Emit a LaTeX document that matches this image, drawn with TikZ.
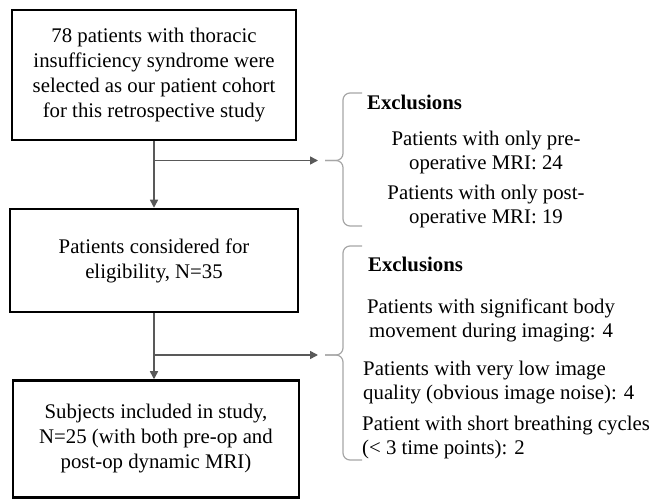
\documentclass[tikz,border=0pt]{standalone}
\usepackage{fontspec}
\setmainfont{Liberation Serif}
\usetikzlibrary{arrows.meta}
\definecolor{arrowgray}{HTML}{595959}
\definecolor{bracegray}{HTML}{A6A6A6}

\begin{document}
\begin{tikzpicture}[x=1pt, y=1pt,
    box/.style={draw, line width=2.5pt, align=center, inner sep=0pt, font=\fontsize{20.8}{25}\selectfont},
    arr/.style={draw=arrowgray, line width=1.5pt, -{Triangle[length=8pt,width=8pt]}},
    brace/.style={draw=bracegray, line width=1.2pt, rounded corners=7pt},
    item/.style={inner sep=0pt, align=center, font=\fontsize{20.8}{24}\selectfont},
    head/.style={inner sep=0pt, anchor=base west, font=\bfseries\fontsize{20.8}{24}\selectfont}]
    \useasboundingbox (0,0) rectangle (652,500);

    \node[box, minimum width=284pt, minimum height=130pt] (cohort) at (154,425) {78 patients with thoracic\\insufficiency syndrome were\\selected as our patient cohort\\for this retrospective study};
    \node[box, minimum width=288pt, minimum height=103pt] (eligible) at (154,239.5) {Patients considered for\\eligibility, N=35};
    \node[box, minimum width=286pt, minimum height=117pt] (included) at (156,61) {Subjects included in study,\\N=25 (with both pre-op and\\post-op dynamic MRI)};

    \draw[arr] (cohort) -- (eligible);
    \draw[arr] (eligible.south) -- (eligible.south |- included.north);
    \coordinate (split1) at (154,339.5);
    \coordinate (tip1) at (318,339.5);
    \coordinate (split2) at (154,145);
    \coordinate (tip2) at (318,145);
    \draw[arr] (split1) -- (tip1);
    \draw[arr] (split2) -- (tip2);

    \draw[brace] (362,407) -- (343,407) -- (343,339.5) -- (325,339.5);
    \draw[brace] (362,274) -- (343,274) -- (343,339.5) -- (325,339.5);
    \draw[brace] (362,254) -- (343,254) -- (343,145) -- (325,145);
    \draw[brace] (362,40) -- (343,40) -- (343,145) -- (325,145);

    \node[head] (excl1) at (367,390) {Exclusions};
    \node[item] (preonly) at (486,347) {Patients with only pre-\\operative MRI: 24};
    \node[item] (postonly) at (486,293) {Patients with only post-\\operative MRI: 19};
    \node[head] (excl2) at (368,228) {Exclusions};
    \node[item] (movement) at (491,180) {Patients with significant body\\movement during imaging: 4};
    \node[item, anchor=west, align=left] (quality) at (363,117) {Patients with very low image\\quality (obvious image noise): 4};
    \node[item, anchor=west, align=left] (breathing) at (362,63) {Patient with short breathing cycles\\(< 3 time points): 2};
\end{tikzpicture}
\end{document}
